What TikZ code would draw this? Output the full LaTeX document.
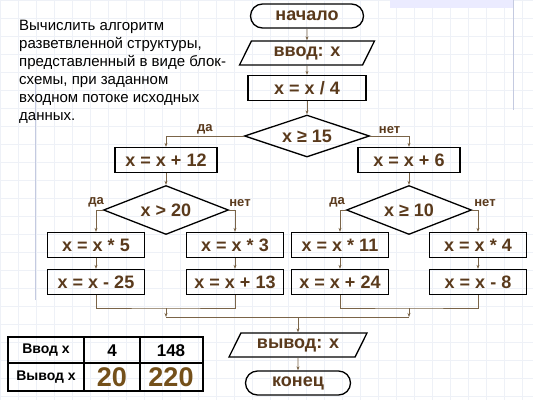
\documentclass[tikz,border=0pt]{standalone}
\usepackage{fontspec}
\setmainfont{Liberation Sans}
\usetikzlibrary{shapes.geometric,shapes.misc,arrows.meta}
\definecolor{txtbrown}{HTML}{5A3A1C}
\definecolor{linebrown}{HTML}{7A6448}
\definecolor{gridblue}{HTML}{EEF1F7}
\definecolor{edgeblue}{HTML}{C4CAE0}
\definecolor{numbrown}{HTML}{74501A}
\tikzset{
  base/.style={draw=black, line width=1.3pt, text=txtbrown,
    font=\fontsize{18}{20}\selectfont\bfseries, inner sep=1pt},
  term/.style={base, rounded rectangle, minimum width=#1, minimum height=24pt},
  io/.style={base, trapezium, trapezium left angle=52, trapezium right angle=128,
    trapezium stretches body, minimum width=#1, minimum height=24pt},
  proc/.style={base, rectangle, minimum width=#1, minimum height=25pt},
  test/.style={base, diamond, aspect=3, minimum width=125pt, minimum height=#1},
  flow/.style={draw=linebrown, line width=0.7pt, -{Stealth[length=4pt,width=3pt]}},
  merge/.style={draw=linebrown, line width=0.7pt},
  yesno/.style={text=txtbrown, font=\fontsize{13}{14}\selectfont\bfseries, inner sep=1pt},
  cell/.style={font=\fontsize{14}{15}\selectfont\bfseries},
  num/.style={font=\fontsize{17}{18}\selectfont\bfseries},
  big/.style={text=numbrown, font=\fontsize{27}{28}\selectfont\bfseries}
}
\begin{document}
\begin{tikzpicture}[x=1pt,y=-1pt]
  \useasboundingbox (0,0) rectangle (533,400);
  % slide background
  \fill[white] (0,0) rectangle (533,400);
  \draw[gridblue, step=18pt] (0,0) grid (533,400);
  \fill[blue!8] (390,0) rectangle (513,8);
  \draw[edgeblue, line width=0.8pt] (35,80) -- (35,300) (513,0) -- (513,110);
  % task
  \node[anchor=north west, align=left, inner sep=0pt,
    font=\fontsize{15}{18}\selectfont] (task) at (19,20)
    {Вычислить алгоритм\\разветвленной структуры,\\представленный в виде блок-\\схемы, при заданном\\входном потоке исходных\\данных.};
  % flowchart
  \node[term=115pt] (start) at (307,16) {начало};
  \node[io=135pt] (in) at (307,53) {ввод: x};
  \node[proc=118pt] (div) at (307,88) {x = x / 4};
  \node[test=42pt] (t1) at (307,136) {x ≥ 15};
  \node[proc=102pt] (add12) at (166,160) {x = x + 12};
  \node[proc=102pt] (add6) at (409,160) {x = x + 6};
  \node[test=49pt] (t2) at (166,210) {x > 20};
  \node[test=49pt] (t3) at (409,210) {x ≥ 10};
  \node[proc=97pt] (mul5) at (96,245) {x = x * 5};
  \node[proc=97pt] (mul3) at (235,245) {x = x * 3};
  \node[proc=97pt] (mul11) at (340,245) {x = x * 11};
  \node[proc=97pt] (mul4) at (478,245) {x = x * 4};
  \node[proc=97pt] (sub25) at (96,282) {x = x - 25};
  \node[proc=97pt] (add13) at (235,282) {x = x + 13};
  \node[proc=97pt] (add24) at (340,282) {x = x + 24};
  \node[proc=97pt] (sub8) at (478,282) {x = x - 8};
  \node[io=138pt] (out) at (298,345) {вывод: x};
  \node[term=107pt] (stop) at (298,383) {конец};
  \coordinate (jl) at (166,308);
  \coordinate (jr) at (409,308);
  \coordinate (jm) at (298,317);
  % connectors
  \draw[flow] (start) -- (in);
  \draw[flow] (in) -- (div);
  \draw[flow] (div) -- (t1);
  \draw[flow] (t1.west) -| node[yesno, above=1pt, pos=0.25] {да} (add12.north);
  \draw[flow] (t1.east) -| node[yesno, above=1pt, pos=0.25] {нет} (add6.north);
  \draw[flow] (add12) -- (t2);
  \draw[flow] (add6) -- (t3);
  \draw[flow] (t2.west) -| node[yesno, above=2pt, pos=0.5] {да} (mul5.north);
  \draw[flow] (t2.east) -| node[yesno, above=2pt, pos=0.5, xshift=5pt] {нет} (mul3.north);
  \draw[flow] (t3.west) -| node[yesno, above=2pt, pos=0.5, xshift=-3pt] {да} (mul11.north);
  \draw[flow] (t3.east) -| node[yesno, above=2pt, pos=0.5, xshift=7pt] {нет} (mul4.north);
  \draw[flow] (mul5) -- (sub25);
  \draw[flow] (mul3) -- (add13);
  \draw[flow] (mul11) -- (add24);
  \draw[flow] (mul4) -- (sub8);
  \draw[merge] (sub25.south) |- (jl) -| (add13.south);
  \draw[merge] (add24.south) |- (jr) -| (sub8.south);
  \draw[flow] (jl) -- (jl |- jm);
  \draw[flow] (jr) -- (jr |- jm);
  \draw[merge] (jl |- jm) -- (jr |- jm);
  \draw[flow] (jm) -- (out);
  \draw[flow] (out) -- (stop);
  % table of runs
  \draw[line width=1.5pt] (8,337) rectangle (203,391);
  \draw[line width=1.2pt] (84,337) -- (84,391) (140,337) -- (140,391) (8,363) -- (203,363);
  \node[cell] (inlbl) at (46,350) {Ввод x};
  \node[num] (in1) at (112,351) {4};
  \node[num] (in2) at (171,351) {148};
  \node[cell] (outlbl) at (46,377) {Вывод x};
  \node[big] (out1) at (112,377) {20};
  \node[big] (out2) at (171,377) {220};
\end{tikzpicture}
\end{document}
